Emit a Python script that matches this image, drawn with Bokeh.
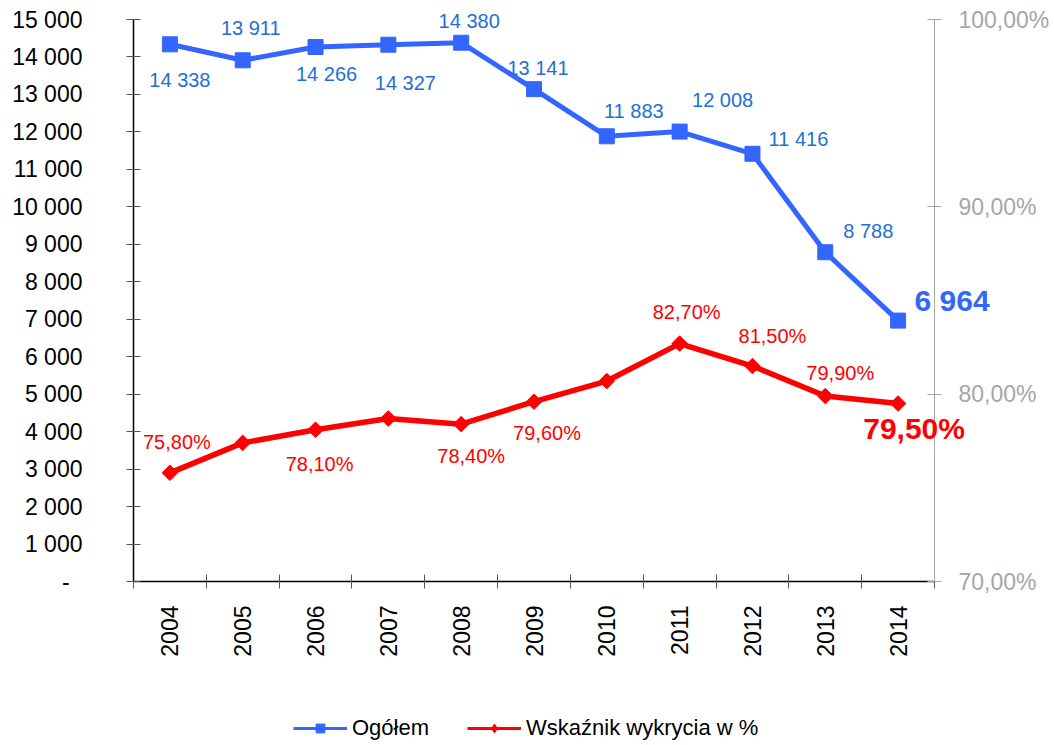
import numpy as np
from bokeh.plotting import figure
from bokeh.layouts import column, row
from bokeh.models import (ColumnDataSource, Range1d, LinearAxis, FixedTicker,
                          Legend, LegendItem)
from bokeh.core.properties import value
from bokeh.embed import file_html
from bokeh.resources import INLINE

# ---- data ----
years = ["2004", "2005", "2006", "2007", "2008", "2009", "2010", "2011", "2012", "2013", "2014"]
ogolem = [14338, 13911, 14266, 14327, 14380, 13141, 11883, 12008, 11416, 8788, 6964]
wskaznik = [75.8, 77.4, 78.1, 78.7, 78.4, 79.6, 80.7, 82.7, 81.5, 79.9, 79.5]
ogolem_labels = ["14 338", "13 911", "14 266", "14 327", "14 380", "13 141",
                 "11 883", "12 008", "11 416", "8 788", "6 964"]
wsk_label_years = ["2004", "2006", "2008", "2009", "2011", "2012", "2013", "2014"]
wsk_labels = ["75,80%", "78,10%", "78,40%", "79,60%", "82,70%", "81,50%", "79,90%", "79,50%"]
left_ticks = list(range(0, 15001, 1000))
left_tick_labels = ["-\u00a0\u00a0"] + ["{:,}".format(t).replace(",", " ") for t in left_ticks[1:]]
right_ticks = [70, 80, 90, 100]
right_tick_labels = ["70,00%", "80,00%", "90,00%", "100,00%"]

# ---- label layout (screen offsets in px, positive = down) ----
blue_dx = [10, 8, 11, 17, 8, 4, 27, 43, 46, 43, 54]
blue_dy = [36, -32, 27, 38, -22, -21, -25, -32, -15, -21, -20]
red_dx = [7, 4, 10, 13, 7, 20, 15, 16]
red_dy = [-31, 34, 32, 31, -32, -30, -23, 25]

FONT = "Liberation Sans"
BLUE = "#3366FF"
BLUE_TXT = "#1F6FD6"
RED = "#FF0000"
GRAY = "#A6A6A6"

W, H = 1054, 745
FL, FR, FT, FB = 133, 934, 19, 581   # frame edges of the axes figure (px)
n = len(years)
YMAX = 15000
PMIN, PMAX = 70, 100

xs = [i + 0.5 for i in range(n)]

# ---------- axes figure ----------
p = figure(width=W, height=H, output_backend="svg", toolbar_location=None,
           x_range=Range1d(0, n), y_range=Range1d(0, YMAX),
           min_border_left=FL, min_border_right=W - FR, min_border_top=FT,
           min_border_bottom=H - FB)
p.outline_line_color = None
p.grid.visible = False
p.extra_y_ranges = {"pct": Range1d(PMIN, PMAX)}

xa = p.xaxis[0]
xa.ticker = FixedTicker(ticks=xs, minor_ticks=list(range(n + 1)))
xa.major_label_overrides = {x: y for x, y in zip(xs, years)}
xa.major_label_orientation = np.pi / 2
xa.major_tick_in = 0
xa.major_tick_out = 0
xa.minor_tick_in = 7
xa.minor_tick_out = 7
xa.minor_tick_line_color = "#555555"
xa.axis_line_color = "black"
xa.axis_line_width = 1.5
xa.major_label_standoff = 17
xa.major_label_text_font = FONT
xa.major_label_text_font_size = "23px"
xa.major_label_text_color = "black"

ya = p.yaxis[0]
ya.ticker = FixedTicker(ticks=left_ticks, minor_ticks=[])
ya.major_label_overrides = {t: l for t, l in zip(left_ticks, left_tick_labels)}
ya.major_tick_in = 7
ya.major_tick_out = 7
ya.major_tick_line_color = "#555555"
ya.axis_line_color = "black"
ya.axis_line_width = 1.5
ya.major_label_standoff = 44
ya.major_label_text_font = FONT
ya.major_label_text_font_size = "23px"
ya.major_label_text_color = "black"

ra = LinearAxis(y_range_name="pct")
ra.ticker = FixedTicker(ticks=right_ticks, minor_ticks=[])
ra.major_label_overrides = {t: l for t, l in zip(right_ticks, right_tick_labels)}
ra.major_tick_in = 7
ra.major_tick_out = 7
ra.major_tick_line_color = GRAY
ra.axis_line_color = GRAY
ra.minor_tick_line_color = None
ra.major_label_standoff = 17
ra.major_label_text_font = FONT
ra.major_label_text_font_size = "23px"
ra.major_label_text_color = GRAY
p.add_layout(ra, "right")

# ---------- transparent overlay figure with full-canvas frame ----------
kx = (FR - FL) / n
ky = (FB - FT) / YMAX
kp = (FB - FT) / (PMAX - PMIN)
q = figure(width=W, height=H, output_backend="svg", toolbar_location=None,
           x_axis_type=None, y_axis_type=None, min_border=0,
           x_range=Range1d(-FL / kx, n + (W - FR) / kx),
           y_range=Range1d(-(H - FB) / ky, YMAX + FT / ky))
q.title.visible = False
q.background_fill_color = None
q.border_fill_color = None
q.outline_line_color = None
q.grid.visible = False
q.extra_y_ranges = {"pct": Range1d(PMIN - (H - FB) / kp, PMAX + FT / kp),
                    # range used only by the legend key glyphs (maps them off-canvas)
                    "key": Range1d(-3e6, -2e6)}

src_b = ColumnDataSource(dict(x=xs, y=ogolem))
q.line("x", "y", source=src_b, line_color=BLUE, line_width=5)
q.scatter("x", "y", source=src_b, marker="square", size=15,
          fill_color=BLUE, line_color=BLUE)

src_r = ColumnDataSource(dict(x=xs, y=wskaznik))
q.line("x", "y", source=src_r, line_color=RED, line_width=5.5, y_range_name="pct")
q.scatter("x", "y", source=src_r, marker="square", angle=np.pi / 4, size=11,
          fill_color=RED, line_color=RED, y_range_name="pct")

src_bl = ColumnDataSource(dict(x=xs[:-1], y=ogolem[:-1], lab=ogolem_labels[:-1],
                               dx=blue_dx[:-1], dy=blue_dy[:-1]))
q.text("x", "y", text="lab", x_offset="dx", y_offset="dy", source=src_bl,
       text_font=value(FONT), text_font_size="20px", text_color=BLUE_TXT,
       text_align="center", text_baseline="middle")
src_bl2 = ColumnDataSource(dict(x=xs[-1:], y=ogolem[-1:], lab=ogolem_labels[-1:],
                                dx=blue_dx[-1:], dy=blue_dy[-1:]))
q.text("x", "y", text="lab", x_offset="dx", y_offset="dy", source=src_bl2,
       text_font=value(FONT), text_font_size="30px", text_font_style="bold",
       text_color=BLUE, text_align="center", text_baseline="middle")

idx = [years.index(y) for y in wsk_label_years]
rx = [xs[i] for i in idx]
ry = [wskaznik[i] for i in idx]
src_rl = ColumnDataSource(dict(x=rx[:-1], y=ry[:-1], lab=wsk_labels[:-1],
                               dx=red_dx[:-1], dy=red_dy[:-1]))
q.text("x", "y", text="lab", x_offset="dx", y_offset="dy", source=src_rl,
       y_range_name="pct", text_font=value(FONT), text_font_size="20px",
       text_color=RED, text_align="center", text_baseline="middle")
src_rl2 = ColumnDataSource(dict(x=rx[-1:], y=ry[-1:], lab=wsk_labels[-1:],
                                dx=red_dx[-1:], dy=red_dy[-1:]))
q.text("x", "y", text="lab", x_offset="dx", y_offset="dy", source=src_rl2,
       y_range_name="pct", text_font=value(FONT), text_font_size="30px",
       text_font_style="bold", text_color=RED, text_align="center",
       text_baseline="middle")

# legend key renderers (same data, mapped onto an off-canvas range)
kb_l = q.line("x", "y", source=src_b, y_range_name="key",
              line_color=BLUE, line_width=3)
kb_m = q.scatter("x", "y", source=src_b, y_range_name="key",
                 marker="square", size=11, fill_color=BLUE, line_color=BLUE)
kr_l = q.line("x", "y", source=src_r, y_range_name="key",
              line_color=RED, line_width=3)
kr_m = q.scatter("x", "y", source=src_r, y_range_name="key",
                 marker="diamond", size=16, fill_color=RED, line_color=RED)

legend = Legend(items=[LegendItem(label="Ogółem", renderers=[kb_l, kb_m]),
                       LegendItem(label="Wskaźnik wykrycia w %", renderers=[kr_l, kr_m])],
                orientation="horizontal", location=(293, 4),
                padding=0, margin=0, spacing=38, glyph_width=54, glyph_height=22,
                label_height=22, label_standoff=5,
                label_text_font=FONT, label_text_font_size="22px",
                label_text_color="black", border_line_color=None,
                background_fill_alpha=0)
q.add_layout(legend, "center")

layout = column(p, row(q, margin=(-H, 0, 0, 0)), spacing=0)
open("out.html", "w").write(file_html(layout, INLINE))
